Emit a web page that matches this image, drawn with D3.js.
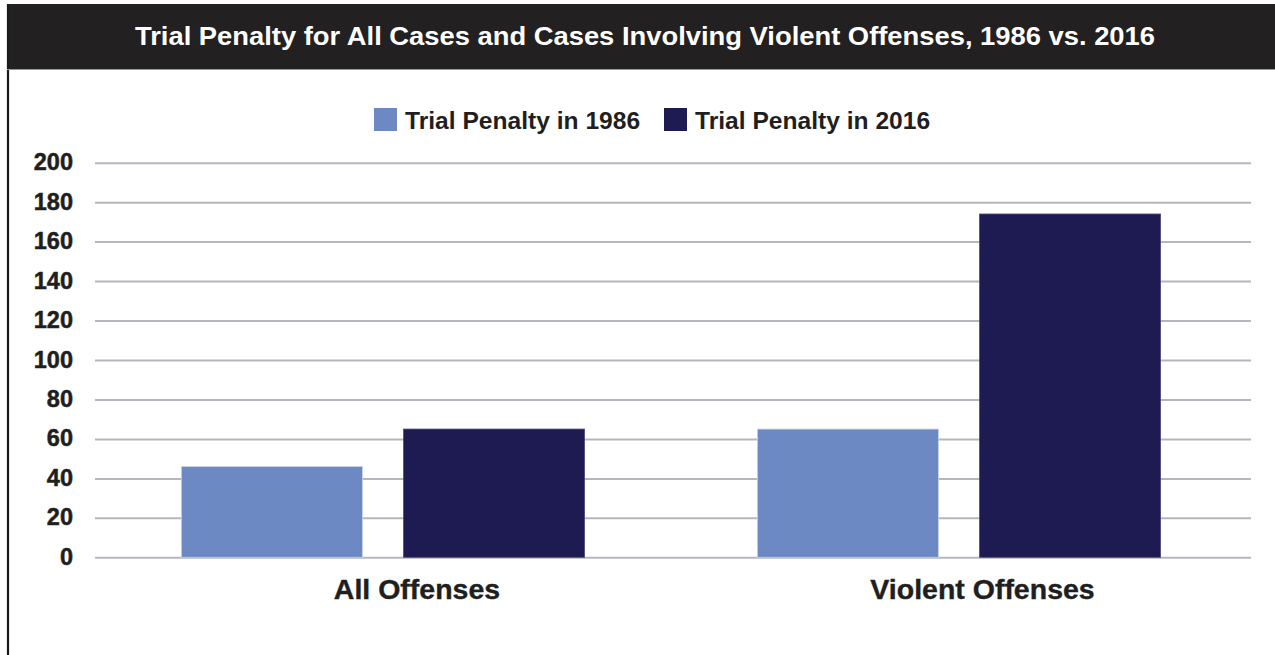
<!DOCTYPE html>
<html>
<head>
<meta charset="utf-8">
<script src="https://cdn.jsdelivr.net/npm/d3@7"></script>
<style>
  html, body { margin: 0; padding: 0; background: #ffffff; }
  svg { display: block; font-family: "Liberation Sans", Arial, sans-serif; }
</style>
</head>
<body>
<svg id="chart" width="1275" height="655"></svg>
<script>
const title = "Trial Penalty for All Cases and Cases Involving Violent Offenses, 1986 vs. 2016";
const categories = ["All Offenses", "Violent Offenses"];
const seriesNames = ["Trial Penalty in 1986", "Trial Penalty in 2016"];
const values1986 = [46, 65];
const values2016 = [65, 174];
const yTicks = [0, 20, 40, 60, 80, 100, 120, 140, 160, 180, 200];
const colors = ["#6d89c4", "#1e1a52"];

const svg = d3.select("#chart");
const W = 1275, H = 655;

// frame + title bar
svg.append("rect").attr("x", 7).attr("y", 4).attr("width", W - 7).attr("height", 65).attr("fill", "#222021");
svg.append("line").attr("x1", 8).attr("x2", 8).attr("y1", 4).attr("y2", H)
  .attr("stroke", "#1a1a1a").attr("stroke-width", 2.2);
svg.append("line").attr("x1", 7).attr("x2", W).attr("y1", 69.5).attr("y2", 69.5)
  .attr("stroke", "#9a9a9a").attr("stroke-width", 1);
svg.append("text").attr("x", 135).attr("y", 44.5)
  .attr("fill", "#ffffff").attr("font-size", 26.5).attr("font-weight", "bold")
  .attr("textLength", 1020).attr("lengthAdjust", "spacingAndGlyphs")
  .text(title);

// scales
const y = d3.scaleLinear().domain([0, 200]).range([557.3, 162.7]);
const x0 = d3.scaleBand().domain(categories).range([95, 1247]).paddingInner(0.3).paddingOuter(0.15);
const x1 = d3.scaleBand().domain(seriesNames).range([0, x0.bandwidth()]).paddingInner(0.185).paddingOuter(0);
const labelX = d3.scalePoint().domain(categories).range([417, 982.5]);

// gridlines
const yAxis = d3.axisLeft(y).tickValues(yTicks).tickSize(-(1251 - 95)).tickPadding(22).tickFormat(d3.format("d"));
const gAxis = svg.append("g").attr("transform", "translate(95,0)").call(yAxis);
gAxis.select(".domain").remove();
gAxis.selectAll(".tick line").attr("stroke", "#b6b7be").attr("stroke-width", 2);
gAxis.selectAll(".tick text")
  .attr("fill", "#1f1f1f").attr("font-size", 23.5).attr("font-weight", "bold")
  .attr("font-family", "Liberation Sans, Arial, sans-serif")
  .attr("stroke", "#1f1f1f").attr("stroke-width", 0.5)
  .attr("dy", "0.3em");

// bars
const data = categories.map((c, i) => ({ cat: c, vals: [values1986[i], values2016[i]] }));
const groups = svg.append("g").selectAll("g").data(data).join("g")
  .attr("transform", d => `translate(${x0(d.cat)},0)`);
groups.selectAll("rect").data(d => d.vals.map((v, j) => ({ s: seriesNames[j], v, j })))
  .join("rect")
  .attr("x", d => x1(d.s))
  .attr("y", d => y(d.v))
  .attr("width", x1.bandwidth())
  .attr("height", d => y(0) - y(d.v))
  .attr("fill", d => colors[d.j])
  .attr("stroke", d => d.j === 0 ? "#c9d1e6" : "#4c4a78")
  .attr("stroke-width", 0.8);

// category labels
svg.append("g").selectAll("text").data(categories).join("text")
  .attr("x", d => labelX(d)).attr("y", 598.5)
  .attr("text-anchor", "middle")
  .attr("fill", "#1f1f1f").attr("font-size", 28.5).attr("font-weight", "bold")
  .attr("stroke", "#1f1f1f").attr("stroke-width", 0.4)
  .text(d => d);

// legend
const legendX = [374, 664];
const leg = svg.append("g").selectAll("g").data(seriesNames).join("g")
  .attr("transform", (d, i) => `translate(${legendX[i]},108)`);
leg.append("rect").attr("width", 23).attr("height", 23).attr("fill", (d, i) => colors[i]);
leg.append("text").attr("x", 31).attr("y", 20.5)
  .attr("fill", "#1f1f1f").attr("font-size", 24.6).attr("font-weight", "bold")
  .text(d => d);
</script>
</body>
</html>
